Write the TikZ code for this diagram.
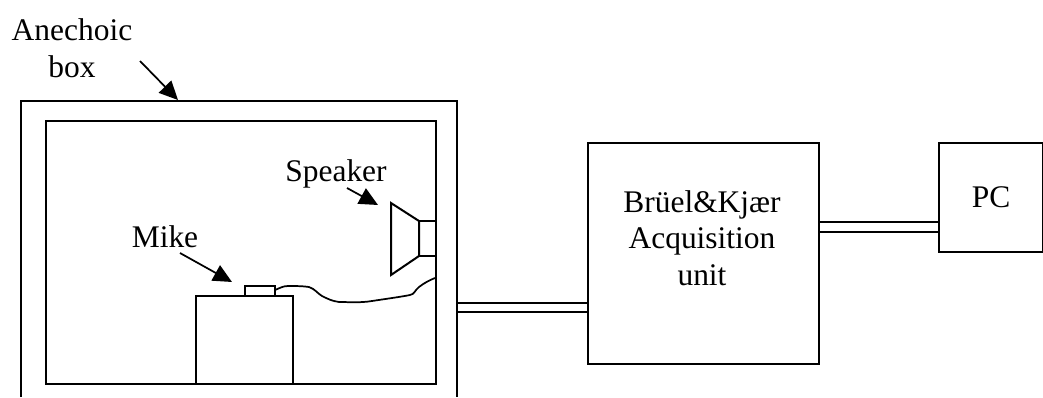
\documentclass[tikz,border=0pt]{standalone}
\usepackage{fontspec}
\setmainfont{Liberation Serif}
\usetikzlibrary{arrows.meta}
\tikzset{
  ln/.style={draw=black,line width=1.5pt},
  pointer/.style={draw=black,line width=1.3pt,-{Triangle[length=14pt,width=13pt]}},
  lbl/.style={font=\fontsize{23.6}{27.4}\selectfont,align=center,inner sep=0pt},
  boxnode/.style={ln,minimum width=0pt,inner sep=0pt},
}
\begin{document}
\begin{tikzpicture}[x=0.75pt,y=-0.75pt]
\useasboundingbox (0,0) rectangle (1043,397);
% anechoic box
\coordinate (oa) at (21,397); \coordinate (ob) at (21,101); \coordinate (oc) at (457,101); \coordinate (od) at (457,397);
\draw[ln] (oa) -- (ob) -- (oc) -- (od);
\coordinate (ia) at (46,121); \coordinate (ib) at (436,384);
\draw[ln] (ia) rectangle (ib);
% stand, mike
\coordinate (sa) at (196,296); \coordinate (sb) at (293,384);
\draw[ln] (sa) rectangle (sb);
\coordinate (ma) at (245,286); \coordinate (mb) at (275,296);
\draw[ln] (ma) rectangle (mb);
% speaker
\coordinate (spa) at (391,203); \coordinate (spb) at (419,221); \coordinate (spc) at (419,256); \coordinate (spd) at (391,275); \coordinate (spe) at (436,221); \coordinate (spf) at (436,256);
\draw[ln] (spa) -- (spb) -- (spc) -- (spd) -- cycle;
\draw[ln] (spb) -- (spe) -- (spf) -- (spc);
% cable
\draw[draw=black,line width=1.3pt] (275,290) .. controls (280,288) and (283,286) .. (288,286)
  .. controls (295,286) and (303,286) .. (309,287)
  .. controls (315,289) and (317,293) .. (322,296)
  .. controls (328,299) and (332,301) .. (339,302)
  .. controls (350,302) and (360,303) .. (372,301)
  .. controls (385,299) and (400,297) .. (410,295)
  .. controls (415,294) and (414,291) .. (419,287)
  .. controls (424,283) and (430,280) .. (435,278);
% acquisition + pc
\node[boxnode,minimum width=173.25pt,minimum height=165.75pt,anchor=north west] (acq) at (587,142) {};
\node[boxnode,minimum width=78pt,minimum height=82pt,anchor=north west] (pc) at (938,142) {};
\node[lbl] (acqt) at (702,238) {Brüel\&Kjær\\Acquisition\\unit};
\node[lbl] (pct) at (991,197) {PC};
% double connectors
\coordinate (c1a) at (457,303); \coordinate (c1b) at (457,312);
\draw[ln] (c1a) -- (c1a -| acq.west);
\draw[ln] (c1b) -- (c1b -| acq.west);
\coordinate (c2a) at (acq.east |- 0,222); \coordinate (c2b) at (acq.east |- 0,232);
\draw[ln] (c2a) -- (c2a -| pc.west);
\draw[ln] (c2b) -- (c2b -| pc.west);
% labels
\node[lbl] (ane) at (72,48) {Anechoic\\box};
\node[lbl] (spk) at (336,174) {Speaker};
\node[lbl] (mik) at (165,237) {Mike};
% pointers
\coordinate (p1a) at (140,61); \coordinate (p1b) at (178,100);
\draw[pointer] (p1a) -- (p1b);
\coordinate (p2a) at (347,188); \coordinate (p2b) at (378,205);
\draw[pointer] (p2a) -- (p2b);
\coordinate (p3a) at (180,253); \coordinate (p3b) at (232,282);
\draw[pointer] (p3a) -- (p3b);
\end{tikzpicture}
\end{document}
